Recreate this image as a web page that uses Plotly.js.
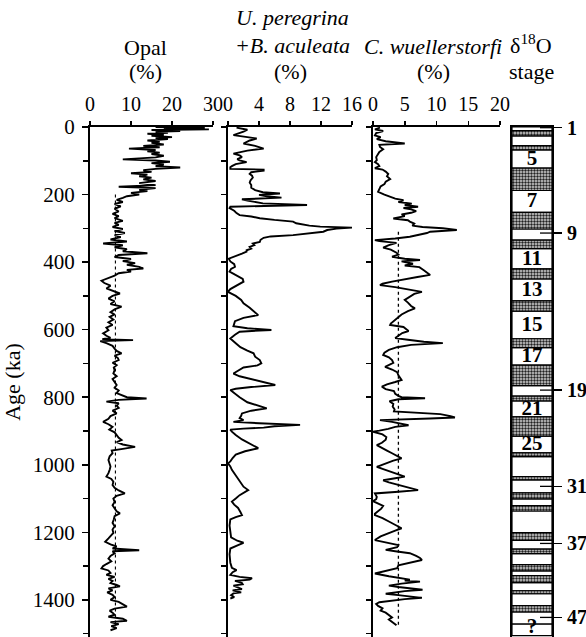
<!DOCTYPE html>
<html>
<head>
<meta charset="utf-8">
<script src="https://cdn.plot.ly/plotly-3.0.1.min.js"></script>
<style>html,body{margin:0;padding:0;background:#fff;}#chart{width:586px;height:637px;}</style>
</head>
<body>
<div id="chart"></div>
<script>
// ---------- Opal (%) ----------
var opalAge = [0,3,5,7,9,12,14,17,20,23,26,30,33,36,40,44,47,52,56,60,64,68,72,76,80,85,90,96,99,103,107,111,116,120,124,128,133,137,141,146,150,155,160,166,172,177,181,186,190,195,200,205,210,216,222,228,235,242,250,257,264,270,278,284,290,296,302,308,314,320,326,333,339,345,350,356,362,368,374,379,385,391,397,403,408,414,419,423,428,433,440,447,455,462,470,478,486,493,500,508,516,524,532,540,548,555,562,570,578,586,594,602,611,618,624,628,631,634,640,648,656,663,670,677,684,690,698,705,712,720,730,738,746,754,764,772,780,788,795,800,804,808,813,818,825,832,840,848,856,864,873,880,888,896,904,912,920,927,933,940,947,953,958,966,975,986,996,1005,1015,1025,1035,1042,1050,1060,1068,1076,1085,1092,1100,1110,1120,1130,1138,1144,1152,1162,1172,1182,1192,1202,1210,1218,1228,1236,1242,1248,1253,1256,1262,1270,1278,1286,1294,1300,1307,1313,1320,1326,1332,1338,1344,1350,1356,1360,1366,1372,1378,1385,1392,1400,1406,1412,1420,1426,1432,1438,1444,1450,1456,1462,1466,1472,1478,1484,1490];
var opalVal = [16,28,18,29,15,22,16,19,14,18,15,20,16,19,14,17,15,18,13,17,9.5,16,14,17,15,18,16,8,16,19.5,15,18,16,22,16,13,15,10,14,12,15,13,16,12,16,7,16,12,14,10,12,9,8,6.5,8,6,7.5,6,7,5.5,7,6,8,6,7,5.5,8,6,8.5,6,7.5,5,9,3.2,8,6,9,8,14,7,6,10,8,11,9,12,13,9,10,7,6,4.5,2.8,3.5,5,4,6,7.3,5.5,4.5,6,5,7.7,6,5,6,4.8,5.7,4.5,5.5,4,4.5,3.2,4,5,3,10.5,2.5,4,5.5,6,6.5,7.7,6,6.8,7,5.5,6.5,5.8,6,5.7,6.5,5.5,6,6.5,6,7,6.5,8,9,13.8,7,4,7,6.5,7,5.5,6.5,5,4.5,3.2,4.5,5.5,4.7,6,6.5,7,7.7,6.5,8,11,8,5.3,5.5,4.8,4.5,4.7,5,4.8,4.5,4,5.2,5.7,5.5,6,7,8.5,6.5,5.7,6,5.5,6,6.5,7.3,6,5.8,5.5,6,5.5,5.7,5,4.5,3.7,5,6.5,5.5,12,5.5,6,5,4.5,5.2,4,3.2,2.8,4.5,5,4,6,4.5,5.5,5,6.5,7.3,4.5,5.5,4.2,5.5,6,5,7,8,9,6,4.8,5.5,6,4.5,8,9,5,7,5.2,6.5,5];
var opalMeanAge = [200, 1480];
var opalMeanVal = [6.2, 6.2];

// ---------- U. peregrina + B. aculeata (%) ----------
var upAge = [2,8,14,20,24,30,34,40,49,56,64,70,79,84,89,95,99,104,110,116,119,124,126,129,134,139,144,150,158,165,172,180,187,193,197,201,205,209,212,214,218,222,226,231,234,236,240,248,255,261,265,270,275,280,285,288,292,295,298,301,305,310,314,320,324,328,334,340,345,350,355,360,365,369,375,384,390,398,406,414,420,428,440,450,458,470,480,488,500,512,522,535,550,557,565,575,590,596,601,606,615,626,640,652,662,670,680,690,700,706,712,722,730,738,745,752,758,764,770,775,779,788,800,815,825,833,840,848,855,862,868,873,877,882,886,890,893,896,902,912,925,940,951,960,970,980,990,996,1005,1015,1025,1040,1055,1065,1075,1082,1090,1100,1109,1118,1128,1140,1149,1155,1162,1180,1200,1215,1225,1231,1238,1248,1265,1290,1305,1312,1318,1326,1332,1336,1340,1344,1350,1354,1358,1364,1368,1372,1378,1381,1386,1392,1396];
var upVal = [1.1,2.5,2,1.2,0.7,2.5,3.7,2.8,2,3.5,4.6,2.5,0.7,1.5,1.8,1.2,1.5,2.4,1,0.5,0.3,0.3,4.6,4.6,3,2.8,3.1,3.2,2.9,2.8,3,3,3.5,4.5,6.7,4,5,6.9,3.5,1.8,2.5,3.8,4.5,10.2,4,0.3,0.2,0.8,1.1,1.5,3,4.1,6,8.4,8.8,9.5,10.5,11.9,16,14,12.8,12.3,10.5,8.4,5.5,4.6,4.2,4.1,3.2,3.4,2.8,3,2.4,2.4,1.8,0.7,0.1,0.3,0.8,0.9,0.4,0.2,1.2,1.9,2,1,0.3,0,1,1.7,2,2.8,3.5,3.9,2,0.9,0.7,2.5,5.6,1.5,0.9,0.3,1,1.6,2.5,3.3,3.5,4.1,4.3,3.8,2,1.2,0.7,1.5,2.8,4,5,6.1,3,1,0.3,0.8,1.5,2.5,3.8,5,3,1.8,1.7,1.5,2,0.7,4,9.3,6,4.6,2,0.3,0.5,1,1.8,3,3.9,2.2,1,0.6,0.3,0,0.3,0.5,0.8,1.2,1.6,2,2.6,2,1.5,1,0.5,0.8,1.3,1.6,1.8,1,0.3,0.2,0.3,0.4,1.2,2,1.3,0.3,0.2,0.3,0.5,1.1,0.6,0.3,1.5,3.1,2.8,0.9,1.8,1.9,0.7,1.4,1.8,0.6,1.7,0.7,0.4,0.8,0.3];

// ---------- C. wuellerstorfi (%) ----------
var cwAge = [2,7,12,18,25,30,36,42,49,53,59,66,74,80,89,98,104,110,116,122,126,132,139,146,154,162,169,176,184,192,200,207,212,217,222,227,231,236,240,244,249,254,259,264,271,276,280,286,292,296,300,305,310,314,320,325,330,335,338,343,350,357,363,372,378,384,390,394,398,405,410,415,424,432,438,444,450,458,464,468,474,480,488,494,502,512,520,530,537,545,555,565,575,582,586,592,598,604,610,617,625,630,636,640,645,652,660,668,675,682,690,698,704,710,718,726,735,742,749,755,762,769,776,782,790,796,800,803,806,812,820,828,836,842,850,856,860,863,868,873,878,883,888,894,899,902,910,918,926,935,942,950,958,966,974,981,988,996,1002,1006,1012,1020,1028,1035,1040,1046,1052,1060,1068,1075,1080,1085,1095,1102,1108,1115,1122,1130,1138,1145,1149,1158,1168,1178,1188,1195,1203,1212,1223,1230,1238,1244,1248,1252,1256,1262,1270,1276,1282,1290,1298,1306,1313,1318,1322,1330,1336,1340,1343,1346,1352,1358,1362,1366,1370,1374,1378,1382,1386,1390,1394,1398,1403,1407,1412,1418,1425,1432,1438,1446,1452,1458,1464,1470,1475];
var cwVal = [1.1,0.3,1.6,0.5,0.3,1.2,0.6,2,5,1,1.1,1.6,1,0.8,0.5,0.6,0.3,0.8,1,0.3,1.5,2,2.4,2.2,2.7,2,1.8,1.2,1,0.8,1.8,2.7,3.5,4.8,4,6.1,5,7.1,4.8,6,6.8,6,4.5,5,3.2,5.5,5.8,6.5,6.2,7.8,11,13.2,9,8.5,7,5.8,3.5,0.3,1,3.7,2.5,1.6,2.8,3.7,4,3,5,7.4,4.5,6.3,5,7.3,8,8.5,9,7,5,3,1.5,1.1,3.5,5.5,7.7,6.5,5.8,5,5.5,6,6.6,5.5,4.5,3.8,3.2,2.8,2.7,4.8,5.2,5.6,4.6,4,3.5,5.5,8,11,6,3.8,2.5,1.8,1.6,2.5,3,3.2,2.5,1.9,3,3.8,4,4.3,4.5,3.5,2.2,1.4,2,3.3,3.5,4,4.5,8.2,4,2.6,3.2,3.1,3.4,3.3,10.6,12.2,12.9,9,1.1,3,4.5,5.6,3.5,2.4,1,0,1.5,2.1,2,1.4,0.6,1.5,2.2,3,3.8,4.5,3.2,2,1,0.6,1.5,2.8,4,5,3.5,1.6,2.5,4,5.5,7.1,4,0.3,0.6,0.5,0,0.8,1.6,1.3,0.8,0.3,0.3,1.5,2.5,3.5,4.5,3.5,2.3,1.2,0.3,2,4,3.8,3,2,3.5,5.8,6.8,7.4,7.7,6,4,3.8,2.2,1,0.3,2.5,4.5,5.8,5,7.4,4.5,2.5,4,6,7.8,5,3,2,4,6.5,7.7,5,2.5,1,0.5,0.8,1.5,1.2,2,2.5,3,2.5,3,3.5,3.7];
var cwMeanAge = [310, 1475];
var cwMeanVal = [4, 4];

// ---------- d18O stage column ----------
var stageStart = [0,11,26,55,68,122,188,253,302,335,360,420,450,515,545,627,653,705,766,797,811,858,915,965,976,1035,1045,1083,1101,1121,1137,1201,1224,1250,1263,1296,1314,1328,1349,1373,1382,1417,1436,1472];
var stageEnd   = [11,26,55,68,122,188,253,302,335,360,420,450,515,545,627,653,705,766,797,811,858,915,965,976,1035,1045,1083,1101,1121,1137,1201,1224,1250,1263,1296,1314,1328,1349,1373,1382,1417,1436,1472,1506];
var stageGlacial = [0,1,0,1,0,1,0,1,0,1,0,1,0,1,0,1,0,1,0,1,0,1,0,1,0,1,0,1,0,1,0,1,0,1,0,1,0,1,0,1,0,1,0,0];
var boxLabels = ["5","7","11","13","15","17","21","25","?"];
var boxLabelAge = [97,222,392,484,588,680,836,942,1484];
var sideLabels = ["1","9","19","31","37","47"];
var sideLabelAge = [2,314,779,1064,1233,1452];

var FONT = "Liberation Serif";
var AGE_MAX = 1510;

function sel(arr, flag, want){ var o=[]; for(var i=0;i<arr.length;i++){ if(flag[i]===want) o.push(arr[i]); } return o; }
var gS = sel(stageStart, stageGlacial, 1), gE = sel(stageEnd, stageGlacial, 1);
var iS = sel(stageStart, stageGlacial, 0), iE = sel(stageEnd, stageGlacial, 0);
function diff(a,b){ return a.map(function(v,i){ return b[i]-v; }); }
function zeros(n, v){ var o=[]; for(var i=0;i<n;i++) o.push(v); return o; }

var lineStyle = {color:'#000', width:1.9};
var traces = [
  {type:'scatter', mode:'lines', x:opalMeanVal, y:opalMeanAge, xaxis:'x', yaxis:'y', line:{color:'#000', width:1.1, dash:'dot'}, hoverinfo:'skip'},
  {type:'scatter', mode:'lines', x:opalVal, y:opalAge, xaxis:'x', yaxis:'y', line:lineStyle},
  {type:'scatter', mode:'lines', x:upVal, y:upAge, xaxis:'x2', yaxis:'y2', line:lineStyle},
  {type:'scatter', mode:'lines', x:cwMeanVal, y:cwMeanAge, xaxis:'x3', yaxis:'y3', line:{color:'#000', width:1.3, dash:'dot'}, hoverinfo:'skip'},
  {type:'scatter', mode:'lines', x:cwVal, y:cwAge, xaxis:'x3', yaxis:'y3', line:lineStyle},
  {type:'bar', x:zeros(iS.length,0), base:iS, y:diff(iS,iE), width:1, xaxis:'x4', yaxis:'y4',
   marker:{color:'#fff', line:{color:'#000', width:1.2}}},
  {type:'bar', x:zeros(gS.length,0), base:gS, y:diff(gS,gE), width:1, xaxis:'x4', yaxis:'y4',
   marker:{color:'#fff', line:{color:'#000', width:1.2}, pattern:{shape:'.', fgcolor:'#222', bgcolor:'#d4d4d4', size:3, solidity:0.5}}},
  {type:'scatter', mode:'text', x:zeros(boxLabels.length,0), y:boxLabelAge, text:boxLabels, xaxis:'x4', yaxis:'y4', cliponaxis:false,
   textfont:{family:FONT, size:21, color:'#000', weight:'bold'}, textposition:'middle center', hoverinfo:'skip'}
];
// short inner segments of the side tick marks
sideLabelAge.forEach(function(a){
  traces.push({type:'scatter', mode:'lines', x:[0.2,0.5], y:[a,a], xaxis:'x4', yaxis:'y4', line:{color:'#000', width:1.3}, hoverinfo:'skip'});
});

var yDom = [0, 510/637];
function xAx(dom, range, dtick, anchor){
  return {domain:dom, range:range, dtick:dtick, tick0:0, side:'top', anchor:anchor, showline:true, linewidth:2, linecolor:'#000',
    ticks:'outside', ticklen:4, tickwidth:1.5, tickcolor:'#000', showgrid:false, zeroline:false,
    tickfont:{family:FONT, size:20, color:'#000'}, ticklabelstandoff:2};
}
function yAx(anchor, labels){
  var a = {domain:yDom, range:[AGE_MAX,0], anchor:anchor, showline:true, linewidth:2, linecolor:'#000', showgrid:false, zeroline:false,
    ticks:'outside', tickcolor:'#000', tickwidth:1.5, tickfont:{family:FONT, size:21, color:'#000'}};
  if(labels){
    a.dtick=200; a.tick0=0; a.ticklen=6; a.ticklabelstandoff=3;
    a.minor={dtick:100, tick0:0, ticks:'outside', ticklen:5, tickwidth:1.5, tickcolor:'#000'};
    a.title={text:'Age (ka)', font:{family:FONT, size:22, color:'#000'}, standoff:6};
  }
  else { a.dtick=100; a.tick0=0; a.ticklen=5; a.showticklabels=false; }
  return a;
}

var W=586, H=637;
function ann(text, px, py, size, extra){
  var o = {text:text, x:px/W, y:(H-py)/H, xref:'paper', yref:'paper', xanchor:'center', yanchor:'middle', showarrow:false,
    font:{family:FONT, size:size||22, color:'#000000'}};
  if(extra) for(var k in extra) o[k]=extra[k];
  return o;
}

var layout = {
  width:W, height:H, margin:{l:0,r:0,t:0,b:0}, paper_bgcolor:'#fff', plot_bgcolor:'rgba(0,0,0,0)',
  font:{family:FONT, color:'#000'},
  showlegend:false, barmode:'overlay', bargap:0,
  xaxis: xAx([90/W, 213/W], [0,30], 10, 'y'),
  xaxis2: xAx([228/W, 352/W], [0,16], 4, 'y2'),
  xaxis3: xAx([373/W, 500/W], [0,20], 5, 'y3'),
  xaxis4: {domain:[512/W, 552/W], range:[-0.5,0.5], anchor:'y4', showline:true, mirror:true, linewidth:2, linecolor:'#000',
    showticklabels:false, ticks:'', showgrid:false, zeroline:false},
  yaxis: yAx('x', true),
  yaxis2: yAx('x2', false),
  yaxis3: yAx('x3', false),
  yaxis4: {domain:yDom, range:[AGE_MAX,0], anchor:'x4', side:'right', showline:true, mirror:true, linewidth:2, linecolor:'#000',
    showgrid:false, zeroline:false, tickmode:'array', tickvals:sideLabelAge, ticktext:sideLabels, ticks:'outside', ticklen:8,
    tickwidth:1.5, tickcolor:'#000', tickfont:{family:FONT, size:20, color:'#000', weight:'bold'}, ticklabelstandoff:1},
  annotations: [
    ann('Opal', 145, 47), ann('(%)', 145, 72),
    ann('<i>U. peregrina</i>', 292, 18), ann('<i>+B. aculeata</i>', 292, 45), ann('(%)', 290, 72),
    ann('<i>C. wuellerstorfi</i>', 433, 46), ann('(%)', 433, 72),
    ann('δ<sup>18</sup>O', 531, 44), ann('stage', 531, 72)
  ]
};

Plotly.newPlot('chart', traces, layout, {staticPlot:true, displayModeBar:false});
</script>
</body>
</html>
